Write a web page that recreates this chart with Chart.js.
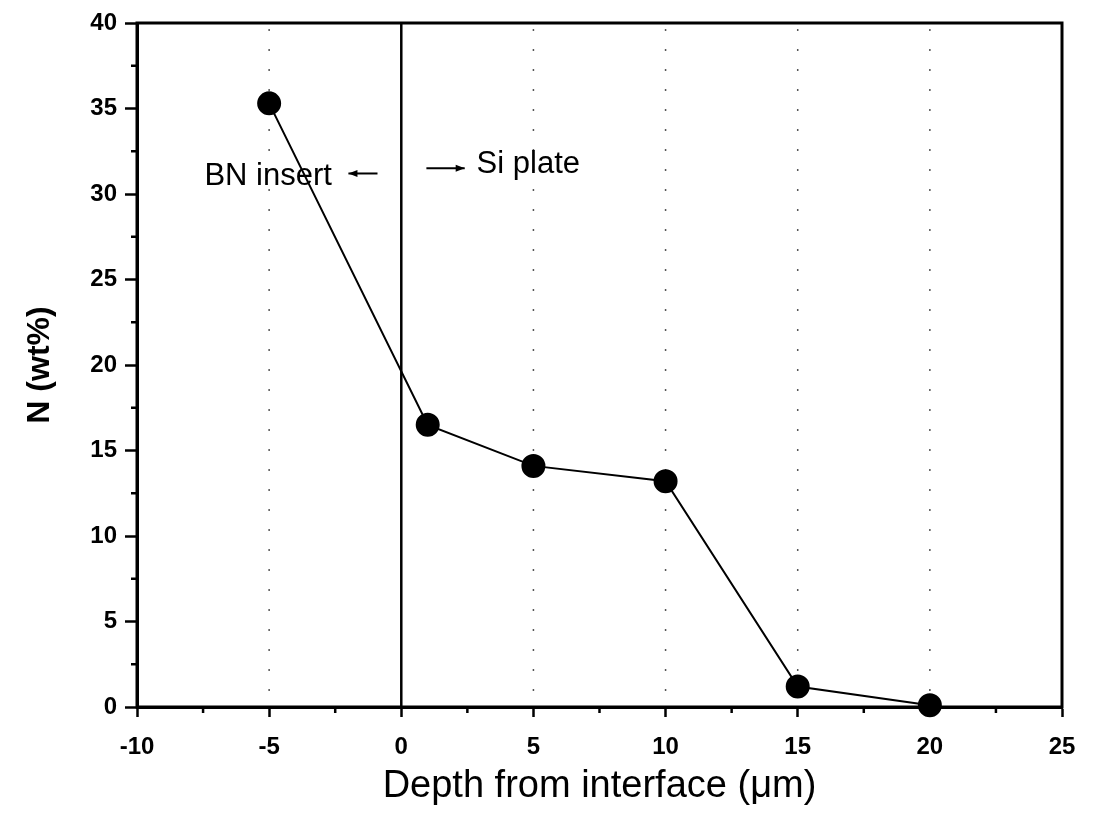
<!DOCTYPE html>
<html>
<head>
<meta charset="utf-8">
<script src="https://cdn.jsdelivr.net/npm/chart.js@4/dist/chart.umd.min.js"></script>
<style>
  html, body { margin: 0; padding: 0; background: #fff; }
  #box { width: 1098px; height: 829px; }
</style>
</head>
<body>
<div id="box"><canvas id="grafico"></canvas></div>
<script>
// dados
var profundidade = [-5, 1, 5, 10, 15, 20];
var nitrogenio = [35.3, 16.5, 14.1, 13.2, 1.2, 0.1];
var linhasPontilhadas = [-5, 5, 10, 15, 20];
var menoresX = [-7.5, -2.5, 2.5, 7.5, 12.5, 17.5, 22.5];
var menoresY = [2.5, 7.5, 12.5, 17.5, 22.5, 27.5, 32.5, 37.5];

var fonte = "'Liberation Sans', Arial, sans-serif";

var pontos = [];
for (var i = 0; i < profundidade.length; i++) {
  pontos.push({ x: profundidade[i], y: nitrogenio[i] });
}

function seta(ctx, x1, x2, y, cabecaEsquerda) {
  ctx.beginPath();
  ctx.moveTo(x1, y);
  ctx.lineTo(x2, y);
  ctx.stroke();
  var hx = cabecaEsquerda ? x1 : x2;
  var d = cabecaEsquerda ? 1 : -1;
  ctx.beginPath();
  ctx.moveTo(hx, y);
  ctx.lineTo(hx + d * 9, y - 3.5);
  ctx.lineTo(hx + d * 9, y + 3.5);
  ctx.closePath();
  ctx.fill();
}

// desenha as linhas pontilhadas, a linha do zero, ticks menores e textos
const extras = {
  id: 'extras',
  beforeDatasetsDraw(chart) {
    const ctx = chart.ctx;
    const xs = chart.scales.x, ys = chart.scales.y;
    const a = chart.chartArea;
    ctx.save();
    ctx.strokeStyle = '#555';
    ctx.lineWidth = 1.5;
    ctx.setLineDash([2, 18]);
    for (var i = 0; i < linhasPontilhadas.length; i++) {
      var px = xs.getPixelForValue(linhasPontilhadas[i]);
      ctx.beginPath();
      ctx.moveTo(px, a.top + 6);
      ctx.lineTo(px, a.bottom);
      ctx.stroke();
    }
    ctx.setLineDash([]);
    ctx.strokeStyle = '#000';
    ctx.lineWidth = 2.5;
    var x0 = xs.getPixelForValue(0);
    ctx.beginPath();
    ctx.moveTo(x0, a.top);
    ctx.lineTo(x0, a.bottom);
    ctx.stroke();

    // textos
    ctx.fillStyle = '#000';
    ctx.font = '31px ' + fonte;
    ctx.textBaseline = 'middle';
    ctx.textAlign = 'left';
    ctx.fillText('BN insert', xs.getPixelForValue(-7.45), ys.getPixelForValue(31.0));
    ctx.fillText('Si plate', xs.getPixelForValue(2.85), ys.getPixelForValue(31.7));
    ctx.lineWidth = 2;
    seta(ctx, xs.getPixelForValue(-2.0), xs.getPixelForValue(-0.9), ys.getPixelForValue(31.2), true);
    seta(ctx, xs.getPixelForValue(0.95), xs.getPixelForValue(2.4), ys.getPixelForValue(31.5), false);
    ctx.restore();
  },
  afterDraw(chart) {
    const ctx = chart.ctx;
    const xs = chart.scales.x, ys = chart.scales.y;
    const a = chart.chartArea;
    ctx.save();
    ctx.strokeStyle = '#000';
    ctx.lineWidth = 3;
    ctx.strokeRect(a.left, a.top, a.right - a.left, a.bottom - a.top);
    ctx.lineWidth = 2.5;
    for (var i = 0; i < menoresX.length; i++) {
      var px = xs.getPixelForValue(menoresX[i]);
      ctx.beginPath();
      ctx.moveTo(px, a.bottom);
      ctx.lineTo(px, a.bottom + 6);
      ctx.stroke();
    }
    for (var j = 0; j < menoresY.length; j++) {
      var py = ys.getPixelForValue(menoresY[j]);
      ctx.beginPath();
      ctx.moveTo(a.left, py);
      ctx.lineTo(a.left - 6, py);
      ctx.stroke();
    }
    ctx.restore();
  }
};

const config = {
  type: 'scatter',
  data: {
    datasets: [{
      data: pontos,
      showLine: true,
      borderColor: '#000',
      borderWidth: 2,
      backgroundColor: '#000',
      pointBackgroundColor: '#000',
      pointBorderColor: '#000',
      pointRadius: 11,
      pointHoverRadius: 11,
      clip: false
    }]
  },
  plugins: [extras],
  options: {
    responsive: true,
    maintainAspectRatio: false,
    animation: false,
    events: [],
    layout: { padding: { top: 23, right: 36, left: 0, bottom: 0 } },
    plugins: { legend: { display: false }, tooltip: { enabled: false } },
    scales: {
      x: {
        type: 'linear',
        min: -10,
        max: 25,
        afterFit: function (s) { s.height = 122; },
        ticks: {
          stepSize: 5,
          color: '#000',
          padding: 16,
          maxRotation: 0,
          font: { family: fonte, size: 24, weight: 'bold' }
        },
        grid: {
          drawOnChartArea: false,
          tickLength: 10,
          tickWidth: 2.5,
          tickColor: '#000'
        },
        border: { display: true, color: '#000', width: 3 },
        title: {
          display: true,
          text: 'Depth from interface (μm)',
          color: '#000',
          padding: { top: 0, bottom: 20 },
          font: { family: fonte, size: 38 }
        }
      },
      y: {
        type: 'linear',
        min: 0,
        max: 40,
        afterFit: function (s) { s.width = 137; },
        ticks: {
          stepSize: 5,
          color: '#000',
          padding: 8,
          font: { family: fonte, size: 24, weight: 'bold' }
        },
        grid: {
          drawOnChartArea: false,
          tickLength: 12,
          tickWidth: 2.5,
          tickColor: '#000'
        },
        border: { display: true, color: '#000', width: 3 },
        title: {
          display: true,
          text: 'N (wt%)',
          color: '#000',
          padding: { top: 21, bottom: 0 },
          font: { family: fonte, size: 32, weight: 'bold' }
        }
      }
    }
  }
};

let meuGrafico = new Chart(document.getElementById('grafico'), config);
</script>
</body>
</html>
